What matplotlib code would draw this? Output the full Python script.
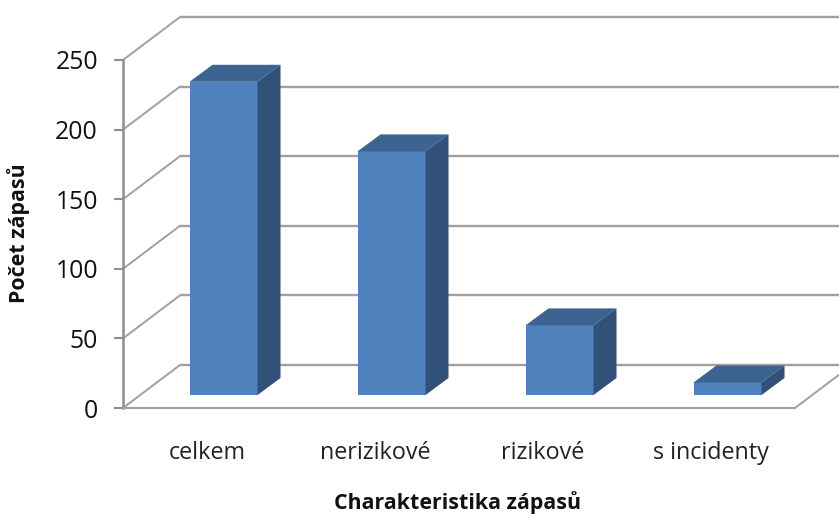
import matplotlib
matplotlib.use("Agg")
import matplotlib.pyplot as plt
from matplotlib.patches import Polygon

categories = ["celkem", "nerizikové", "rizikové", "s incidenty"]
values = [225, 175, 50, 9]
y_ticks = [0, 50, 100, 150, 200, 250]
x_title = "Charakteristika zápasů"
y_title = "Počet zápasů"

W, H = 839, 516
L, R, T, B = 123, 795, 60, 408
GRID = "#a0a0a0"
AXIS = "#8e8e8e"
FRONT, TOP, SIDE = "#4f81bd", "#3d6391", "#325178"

plt.rcParams["font.family"] = "Open Sans"
fig = plt.figure(figsize=(W / 100, H / 100), dpi=100, facecolor="white")
ax = fig.add_axes([L / W, 1 - B / H, (R - L) / W, (B - T) / H])
ax.set_xlim(0, len(categories))
ax.set_ylim(0, 250)
ax.patch.set_alpha(0)

ux = len(categories) / (R - L)   # data units per pixel
uy = 250 / (B - T)


def depth(x, y, dx_px, dy_px):
    """Oblique projection: shift a data point by a pixel offset."""
    return x + dx_px * ux, y + dy_px * uy


# Back wall gridlines and left-side diagonals
DX, DY = 57, 43
x_end = len(categories)
for v in y_ticks:
    x0, y0 = depth(0, v, DX, DY)
    x1, y1 = depth(x_end, v, DX, DY)
    ax.plot([x0, x1], [y0, y1], color=GRID, lw=1.7, clip_on=False, zorder=1,
            solid_capstyle="butt")
    ax.plot([0, x0], [v, y0], color=GRID, lw=1.4, clip_on=False, zorder=1)
x1, y1 = depth(x_end, 0, DX, DY)
ax.plot([x_end, x1], [0, y1], color=GRID, lw=1.4, clip_on=False, zorder=1)

# Bars: front face from ax.bar, side and top derived from the same values
OX, OY = 16.5, 13
BX, BY = 23, 17
bar_w = 68 * ux
centers = [i + 0.5 for i in range(len(categories))]
base_x = [c + OX * ux for c in centers]
base_y = OY * uy
ax.bar(base_x, values, width=bar_w, bottom=base_y, color=FRONT, zorder=3,
       clip_on=False, linewidth=0)
for c, v in zip(base_x, values):
    xl, xr = c - bar_w / 2, c + bar_w / 2
    yb, yt = base_y, base_y + v
    top = [(xl, yt), (xr, yt), depth(xr, yt, BX, BY), depth(xl, yt, BX, BY)]
    side = [(xr, yb), (xr, yt), depth(xr, yt, BX, BY), depth(xr, yb, BX, BY)]
    ax.add_patch(Polygon(top, closed=True, fc=TOP, ec="none", zorder=3, clip_on=False))
    ax.add_patch(Polygon(side, closed=True, fc=SIDE, ec="none", zorder=3, clip_on=False))

# Axes
for s in ("top", "right"):
    ax.spines[s].set_visible(False)
ax.spines["left"].set_color(AXIS)
ax.spines["left"].set_linewidth(1.8)
ax.spines["bottom"].set_color(GRID)
ax.spines["bottom"].set_linewidth(1.5)
ax.set_yticks(y_ticks)
ax.set_xticks(centers)
ax.set_xticklabels(categories)
ax.tick_params(axis="y", length=6.5, width=1.5, color=AXIS, pad=11.5,
               labelsize=17.8, labelcolor="#111111")
ax.tick_params(axis="x", length=0, pad=24, labelsize=16.8, labelcolor="#222222")

fig.text(458 / W, 1 - 503 / H, x_title, ha="center", va="center",
         fontsize=15.4, fontweight="bold", color="#111111")
fig.text(19 / W, 1 - 233 / H, y_title, ha="center", va="center",
         rotation=90, fontsize=15.4, fontweight="bold", color="#111111")

fig.savefig("out.png", dpi=100, facecolor="white")
